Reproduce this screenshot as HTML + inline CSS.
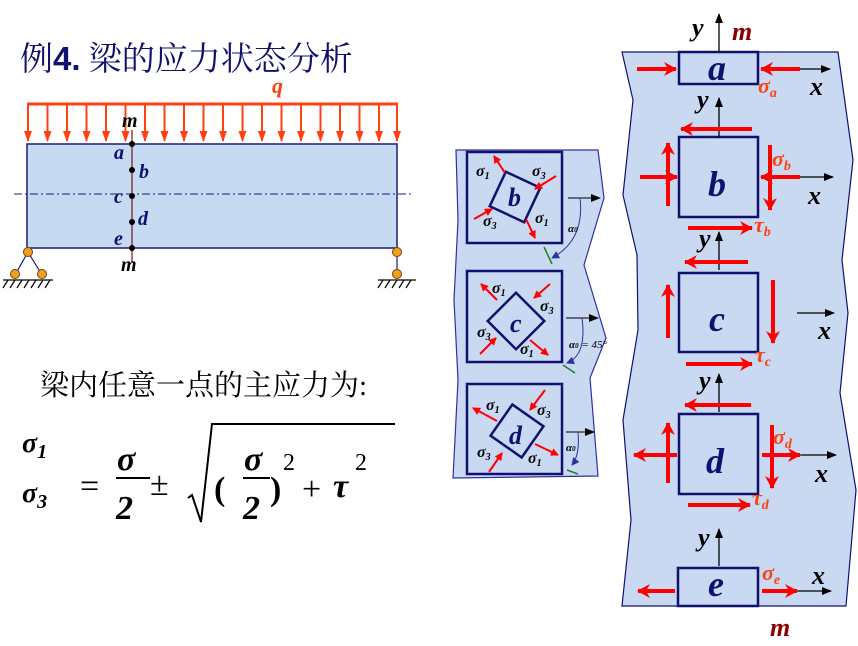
<!DOCTYPE html>
<html><head><meta charset="utf-8"><style>
html,body{margin:0;padding:0;background:#fff;}
svg{display:block;}
.cj{font-family:"Liberation Serif","Noto Serif CJK SC",serif;}
.it{font-family:"Liberation Serif",serif;font-style:italic;font-weight:bold;}
.rm{font-family:"Liberation Serif",serif;}
</style></head><body>
<svg width="858" height="646" viewBox="0 0 858 646" xmlns="http://www.w3.org/2000/svg">
<defs>
<marker id="ar" markerWidth="8" markerHeight="8" refX="7" refY="4" orient="auto" markerUnits="userSpaceOnUse"><path d="M0,0 L8,4 L0,8 z" fill="#ff0000"/></marker>
<marker id="ar2" markerWidth="14" markerHeight="14" refX="12" refY="7" orient="auto" markerUnits="userSpaceOnUse"><path d="M0,0 L13,7 L0,14 L4,7 z" fill="#ff0000"/></marker>
<marker id="ao" markerWidth="11" markerHeight="8" refX="10" refY="4" orient="auto" markerUnits="userSpaceOnUse"><path d="M0,0 L11,4 L0,8 z" fill="#ff4010"/></marker>
<marker id="ab" markerWidth="10" markerHeight="8" refX="9" refY="4" orient="auto" markerUnits="userSpaceOnUse"><path d="M0,0 L10,4 L0,8 z" fill="#000"/></marker>
<marker id="ap" markerWidth="8" markerHeight="8" refX="7" refY="4" orient="auto" markerUnits="userSpaceOnUse"><path d="M0,0 L8,4 L0,8 z" fill="#3030a0"/></marker>
</defs>

<!-- Title -->
<text x="20" y="70" class="cj" font-size="33" fill="#10106e">例<tspan font-weight="bold" font-family="Liberation Sans">4.</tspan> 梁的应力状态分析</text>

<!-- Beam -->
<text x="272" y="93" class="it" font-size="22" fill="#ff4010">q</text>
<line x1="27" y1="104" x2="398" y2="104" stroke="#ff4010" stroke-width="3"/>
<g stroke="#ff4010" stroke-width="2" marker-end="url(#ao)">
<line x1="28" y1="104" x2="28" y2="141"/><line x1="47.5" y1="104" x2="47.5" y2="141"/><line x1="67" y1="104" x2="67" y2="141"/><line x1="86.5" y1="104" x2="86.5" y2="141"/><line x1="106" y1="104" x2="106" y2="141"/><line x1="125.5" y1="104" x2="125.5" y2="141"/><line x1="145" y1="104" x2="145" y2="141"/><line x1="164.5" y1="104" x2="164.5" y2="141"/><line x1="184" y1="104" x2="184" y2="141"/><line x1="203.5" y1="104" x2="203.5" y2="141"/><line x1="223" y1="104" x2="223" y2="141"/><line x1="242.5" y1="104" x2="242.5" y2="141"/><line x1="262" y1="104" x2="262" y2="141"/><line x1="281.5" y1="104" x2="281.5" y2="141"/><line x1="301" y1="104" x2="301" y2="141"/><line x1="320.5" y1="104" x2="320.5" y2="141"/><line x1="340" y1="104" x2="340" y2="141"/><line x1="359.5" y1="104" x2="359.5" y2="141"/><line x1="379" y1="104" x2="379" y2="141"/><line x1="397" y1="104" x2="397" y2="141"/>
</g>
<rect x="27" y="144" width="370" height="104" fill="#c6daf2" stroke="#1a1a80" stroke-width="1.5"/>
<line x1="14" y1="194" x2="412" y2="194" stroke="#1a1a80" stroke-width="1" stroke-dasharray="8,3,2,3"/>
<line x1="132" y1="130" x2="132" y2="262" stroke="#7a1010" stroke-width="1.2"/>
<g fill="#000"><circle cx="132" cy="144" r="3"/><circle cx="132" cy="170" r="3"/><circle cx="132" cy="196" r="3"/><circle cx="132" cy="222" r="3"/><circle cx="132" cy="248" r="3"/></g>
<g class="it" font-size="20" fill="#10106e">
<text x="114" y="159">a</text><text x="139" y="178">b</text><text x="114" y="203">c</text><text x="138" y="225">d</text><text x="114" y="245">e</text></g>
<text x="122" y="127" class="it" font-size="20" fill="#000">m</text>
<text x="121" y="271" class="it" font-size="20" fill="#000">m</text>
<!-- supports -->
<g stroke="#1a1a80" stroke-width="1.2" fill="none"><line x1="28" y1="252" x2="15" y2="275"/><line x1="28" y1="252" x2="42" y2="275"/><line x1="397" y1="252" x2="397" y2="275"/></g>
<g stroke="#000" stroke-width="1.2"><line x1="3" y1="280" x2="53" y2="280"/><line x1="378" y1="280" x2="416" y2="280"/>
<path d="M8,280 l-5,8 M15,280 l-5,8 M22,280 l-5,8 M29,280 l-5,8 M36,280 l-5,8 M43,280 l-5,8 M50,280 l-5,8 M383,280 l-5,8 M390,280 l-5,8 M397,280 l-5,8 M404,280 l-5,8 M411,280 l-5,8" fill="none"/></g>
<g fill="#f0a020" stroke="#804000" stroke-width="1"><circle cx="28" cy="252" r="4.5"/><circle cx="15" cy="274" r="4.5"/><circle cx="42" cy="274" r="4.5"/><circle cx="397" cy="252" r="4.5"/><circle cx="397" cy="274" r="4.5"/></g>

<!-- text -->
<text x="40" y="395" class="cj" font-size="29" fill="#000">梁内任意一点的主应力为:</text>
<text x="22" y="452" class="it" font-size="28">σ<tspan font-size="20" dy="6">1</tspan></text>
<text x="22" y="502" class="it" font-size="28">σ<tspan font-size="20" dy="6">3</tspan></text>
<g class="rm" font-size="34">
<text x="80" y="497">=</text>
<text x="117" y="470" font-style="italic" font-weight="bold">σ</text>
<text x="116" y="519" font-weight="bold" font-style="italic">2</text>
<text x="150" y="495">±</text>
<text x="214" y="500" font-weight="bold">(</text>
<text x="244" y="470" font-style="italic" font-weight="bold">σ</text>
<text x="243" y="519" font-weight="bold" font-style="italic">2</text>
<text x="270" y="500" font-weight="bold">)</text>
<text x="283" y="470" font-size="24">2</text>
<text x="302" y="500">+</text>
<text x="333" y="497" font-style="italic" font-weight="bold">τ</text>
<text x="355" y="470" font-size="24">2</text>
</g>
<line x1="116" y1="478" x2="150" y2="478" stroke="#000" stroke-width="2"/>
<line x1="243" y1="478" x2="270" y2="478" stroke="#000" stroke-width="2"/>
<path d="M188,498 L192,495 L201,522 L212,424 L395,424" stroke="#000" stroke-width="2" fill="none"/>

<!-- Middle panel -->
<path d="M456,150 L598,150 L604,198 L584,265 L606,338 L590,378 L598,476 L453,478 L458,380 L454,300 L458,220 Z" fill="#c9d9f2" stroke="#3030a0" stroke-width="1.2"/>
<g fill="none" stroke="#10106e" stroke-width="2.5">
<rect x="467" y="152" width="95" height="91"/><rect x="467" y="271" width="95" height="91"/><rect x="467" y="384" width="95" height="90"/>
<rect x="-19" y="-19" width="38" height="38" transform="translate(515,197) rotate(25)"/>
<rect x="-20" y="-20" width="40" height="40" transform="translate(516,321) rotate(45)"/>
<rect x="-19" y="-19" width="38" height="38" transform="translate(517,431) rotate(35)"/>
</g>
<g stroke="#ff0000" stroke-width="2" marker-end="url(#ar)">
<line x1="505" y1="173" x2="494" y2="156"/><line x1="526" y1="219" x2="535" y2="238"/>
<line x1="556" y1="176" x2="535" y2="189"/><line x1="474" y1="219" x2="492" y2="209"/>
<line x1="497" y1="300" x2="481" y2="284"/><line x1="530" y1="340" x2="548" y2="355"/>
<line x1="550" y1="284" x2="534" y2="298"/><line x1="480" y1="354" x2="496" y2="338"/>
<line x1="497" y1="421" x2="473" y2="408"/><line x1="535" y1="444" x2="558" y2="455"/>
<line x1="545" y1="390" x2="530" y2="410"/><line x1="489" y1="472" x2="502" y2="453"/>
</g>
<g class="it" font-size="16" fill="#000">
<text x="476" y="176">σ<tspan font-size="10" dy="3">1</tspan></text><text x="532" y="176">σ<tspan font-size="10" dy="3">3</tspan></text>
<text x="483" y="226">σ<tspan font-size="10" dy="3">3</tspan></text><text x="535" y="223">σ<tspan font-size="10" dy="3">1</tspan></text>
<text x="492" y="293">σ<tspan font-size="10" dy="3">1</tspan></text><text x="540" y="311">σ<tspan font-size="10" dy="3">3</tspan></text>
<text x="477" y="337">σ<tspan font-size="10" dy="3">3</tspan></text><text x="520" y="354">σ<tspan font-size="10" dy="3">1</tspan></text>
<text x="486" y="410">σ<tspan font-size="10" dy="3">1</tspan></text><text x="537" y="415">σ<tspan font-size="10" dy="3">3</tspan></text>
<text x="477" y="457">σ<tspan font-size="10" dy="3">3</tspan></text><text x="528" y="463">σ<tspan font-size="10" dy="3">1</tspan></text>
</g>
<g class="it" font-size="26" fill="#10106e"><text x="508" y="206">b</text><text x="510" y="332">c</text><text x="509" y="444">d</text></g>
<g stroke="#000" stroke-width="1" marker-end="url(#ab)"><line x1="568" y1="198" x2="600" y2="198"/><line x1="566" y1="318" x2="598" y2="318"/><line x1="566" y1="432" x2="594" y2="432"/></g>
<g stroke="#3030a0" stroke-width="1" fill="none" marker-end="url(#ap)"><path d="M580,198 Q585,240 552,258"/><path d="M582,318 Q587,355 567,363"/><path d="M578,432 Q580,455 572,465"/></g>
<g stroke="#208020" stroke-width="1.5"><line x1="544" y1="247" x2="552" y2="264"/><line x1="563" y1="365" x2="575" y2="373"/><line x1="567" y1="470" x2="578" y2="474"/></g>
<g class="it" font-size="11" fill="#000"><text x="568" y="232">α<tspan font-size="7">0</tspan></text><text x="569" y="348">α<tspan font-size="7">0</tspan><tspan font-style="italic" font-weight="normal"> = 45°</tspan></text><text x="566" y="451">α<tspan font-size="7">0</tspan></text></g>

<!-- Right panel -->
<path d="M622,52 L838,52 L853,160 L842,260 L848,313 L840,393 L856,490 L846,606 L622,606 L631,520 L623,420 L638,330 L637,255 L623,195 L633,100 Z" fill="#c9d9f2" stroke="#10106e" stroke-width="1.2"/>
<g fill="none" stroke="#10106e" stroke-width="2.5">
<rect x="679" y="52" width="79" height="32"/><rect x="679" y="137" width="79" height="80"/><rect x="679" y="273" width="79" height="79"/><rect x="679" y="414" width="79" height="80"/><rect x="678" y="568" width="80" height="38"/>
</g>
<g stroke="#000" stroke-width="1.3" marker-end="url(#ab)">
<line x1="719" y1="52" x2="719" y2="14"/><line x1="719" y1="137" x2="719" y2="98"/><line x1="719" y1="270" x2="719" y2="232"/><line x1="719" y1="412" x2="719" y2="374"/><line x1="719" y1="566" x2="719" y2="529"/>
<line x1="790" y1="69" x2="830" y2="69"/><line x1="780" y1="177" x2="833" y2="177"/><line x1="797" y1="313" x2="834" y2="313"/><line x1="790" y1="455" x2="836" y2="455"/><line x1="790" y1="591" x2="831" y2="591"/>
</g>
<g stroke="#ff0000" stroke-width="4" marker-end="url(#ar2)">
<line x1="637" y1="69" x2="676" y2="69"/><line x1="800" y1="69" x2="761" y2="69"/>
<line x1="752" y1="129" x2="681" y2="129"/><line x1="668" y1="206" x2="668" y2="143"/><line x1="640" y1="177" x2="677" y2="177"/><line x1="770" y1="145" x2="770" y2="210"/><line x1="800" y1="177" x2="761" y2="177"/><line x1="688" y1="228" x2="752" y2="228"/>
<line x1="748" y1="262" x2="685" y2="262"/><line x1="668" y1="338" x2="668" y2="285"/><line x1="773" y1="280" x2="773" y2="343"/><line x1="686" y1="364" x2="752" y2="364"/>
<line x1="751" y1="405" x2="685" y2="405"/><line x1="668" y1="483" x2="668" y2="423"/><line x1="677" y1="455" x2="634" y2="455"/><line x1="762" y1="455" x2="800" y2="455"/><line x1="772" y1="425" x2="772" y2="488"/><line x1="688" y1="505" x2="750" y2="505"/>
<line x1="675" y1="591" x2="638" y2="591"/><line x1="762" y1="591" x2="797" y2="591"/>
</g>
<g class="it" font-size="36" fill="#10106e"><text x="708" y="80">a</text><text x="708" y="196">b</text><text x="709" y="331">c</text><text x="706" y="473">d</text><text x="708" y="596">e</text></g>
<g class="it" font-size="26" fill="#000"><text x="692" y="36">y</text><text x="810" y="95">x</text><text x="697" y="108">y</text><text x="808" y="204">x</text><text x="699" y="247">y</text><text x="818" y="339">x</text><text x="699" y="389">y</text><text x="815" y="482">x</text><text x="698" y="546">y</text><text x="812" y="584">x</text></g>
<g class="it" font-size="26" fill="#8b0000"><text x="732" y="40">m</text><text x="770" y="636">m</text></g>
<g class="it" font-size="22" fill="#ff4010">
<text x="758" y="93">σ<tspan font-size="14" dy="4">a</tspan></text>
<text x="772" y="166">σ<tspan font-size="14" dy="4">b</tspan></text>
<text x="754" y="232">τ<tspan font-size="14" dy="4">b</tspan></text>
<text x="755" y="362">τ<tspan font-size="14" dy="4">c</tspan></text>
<text x="773" y="444">σ<tspan font-size="14" dy="4">d</tspan></text>
<text x="752" y="505">τ<tspan font-size="14" dy="4">d</tspan></text>
<text x="762" y="580">σ<tspan font-size="14" dy="4">e</tspan></text>
</g>
</svg>
</body></html>
